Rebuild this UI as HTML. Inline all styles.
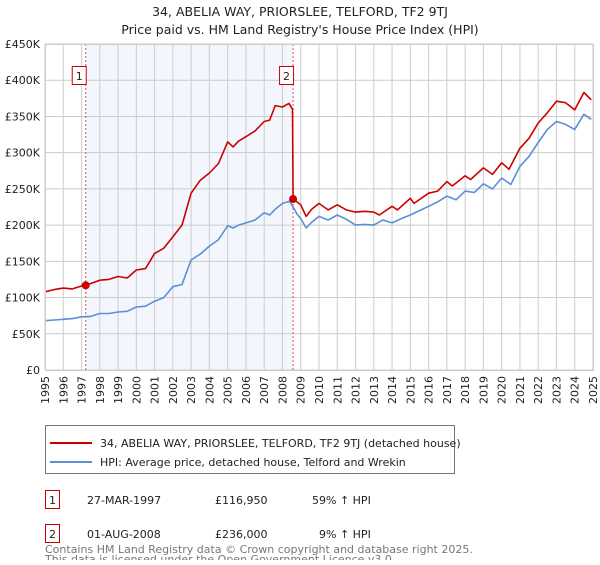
<!DOCTYPE html>
<html><head><meta charset="utf-8"><style>
body{margin:0;background:#fff;font-family:"Liberation Sans","DejaVu Sans",sans-serif;}
svg text{font-family:"DejaVu Sans","Liberation Sans",sans-serif;}
</style></head><body>
<svg id="chart" width="600" height="560" xmlns="http://www.w3.org/2000/svg">
<text x="300" y="16" text-anchor="middle" font-size="12.5" fill="#222">34, ABELIA WAY, PRIORSLEE, TELFORD, TF2 9TJ</text>
<text x="300" y="34" text-anchor="middle" font-size="12.5" fill="#222">Price paid vs. HM Land Registry's House Price Index (HPI)</text>
<g id="plot"></g>
<g>
<rect x="45.5" y="425.5" width="409" height="48" fill="#fff" stroke="#777"/>
<line x1="50" y1="443" x2="92" y2="443" stroke="#cc0000" stroke-width="2"/>
<text x="100" y="447" font-size="11" fill="#222">34, ABELIA WAY, PRIORSLEE, TELFORD, TF2 9TJ (detached house)</text>
<line x1="50" y1="462" x2="92" y2="462" stroke="#5b8fd6" stroke-width="2"/>
<text x="100" y="466" font-size="11" fill="#222">HPI: Average price, detached house, Telford and Wrekin</text>
</g>
<g font-size="11" fill="#222">
<rect x="45.5" y="490.5" width="14" height="18" fill="#fff" stroke="#cc0000"/>
<text x="52.5" y="504" text-anchor="middle">1</text>
<text x="87" y="504">27-MAR-1997</text>
<text x="215" y="504">£116,950</text>
<text x="312" y="504">59% ↑ HPI</text>
</g>
<g font-size="11" fill="#222">
<rect x="45.5" y="524.5" width="14" height="18" fill="#fff" stroke="#cc0000"/>
<text x="52.5" y="538" text-anchor="middle">2</text>
<text x="87" y="538">01-AUG-2008</text>
<text x="215" y="538">£236,000</text>
<text x="319" y="538">9% ↑ HPI</text>
</g>
<text x="45" y="553" font-size="11" fill="#777">Contains HM Land Registry data © Crown copyright and database right 2025.</text>
<text x="45" y="563" font-size="11" fill="#777">This data is licensed under the Open Government Licence v3.0.</text>
</svg>
<script>
const yTicks=[0,50,100,150,200,250,300,350,400,450];
const yTickLabels=["£0","£50K","£100K","£150K","£200K","£250K","£300K","£350K","£400K","£450K"];
const years=[1995,1996,1997,1998,1999,2000,2001,2002,2003,2004,2005,2006,2007,2008,2009,2010,2011,2012,2013,2014,2015,2016,2017,2018,2019,2020,2021,2022,2023,2024,2025];
const hpiT=[1995,1995.5,1996,1996.5,1997,1997.5,1998,1998.5,1999,1999.5,2000,2000.5,2001,2001.5,2002,2002.5,2003,2003.5,2004,2004.5,2005,2005.3,2005.6,2006,2006.5,2007,2007.3,2007.6,2008,2008.4,2008.8,2009,2009.3,2009.6,2010,2010.5,2011,2011.5,2012,2012.5,2013,2013.5,2014,2014.5,2015,2015.5,2016,2016.5,2017,2017.5,2018,2018.5,2019,2019.5,2020,2020.5,2021,2021.5,2022,2022.5,2023,2023.5,2024,2024.5,2024.9];
const hpiV=[68,69,70,71,73.5,74,78,78,80,81,87,88,95,100,115,118,152,160,171,180,199,196,200,203,207,217,214,222,230,233,215,209,196,204,212,207,214,208,200,201,200,207,203,209,214,220,226,232,240,235,247,245,257,250,265,256,281,295,314,332,343,339,332,353,346];
const propT=[1995,1995.5,1996,1996.5,1997,1997.23,1997.7,1998,1998.5,1999,1999.5,2000,2000.5,2001,2001.5,2002,2002.5,2003,2003.5,2004,2004.5,2005,2005.3,2005.6,2006,2006.5,2007,2007.3,2007.6,2008,2008.35,2008.55,2008.58,2009,2009.3,2009.6,2010,2010.5,2011,2011.5,2012,2012.5,2013,2013.3,2014,2014.3,2015,2015.2,2016,2016.5,2017,2017.3,2018,2018.3,2019,2019.5,2020,2020.4,2021,2021.5,2022,2022.5,2023,2023.5,2024,2024.5,2024.9];
const propV=[108,111,113,112,116,116.95,121,124,125,129,127,138,140,161,168,184,200,244,262,272,285,315,308,316,322,330,343,345,365,363,368,360,236,228,212,222,230,221,228,221,218,219,218,214,226,221,237,230,244,247,260,254,268,263,279,270,286,277,306,320,341,355,371,369,359,383,373];
const saleT=[1997.23,2008.58];
const saleV=[116.95,236];
const saleLabels=["1","2"];

const X0=45,X1=593,Y0=370,Y1=44;
const xs=t=>X0+(t-1995)/30*(X1-X0);
const ys=v=>Y0-v/450*(Y0-Y1);
const NS="http://www.w3.org/2000/svg";
const g=document.getElementById('plot');
function mk(tag,attrs){const e=document.createElementNS(NS,tag);for(const k in attrs)e.setAttribute(k,attrs[k]);g.appendChild(e);return e;}

let sh=mk('rect',{x:xs(saleT[0]),y:Y1,width:xs(saleT[1])-xs(saleT[0]),height:Y0-Y1,fill:'#eef3fc',opacity:0.7});


years.forEach(y=>{
 const l=mk('line',{x1:xs(y),x2:xs(y),y1:Y1,y2:Y0,stroke:'#cccccc','stroke-width':1});
 
 
 const tx=xs(y)+4, ty=Y0+6;
 const t=mk('text',{x:tx,y:ty,transform:'rotate(-90 '+tx+' '+ty+')','text-anchor':'end','font-size':11,fill:'#222'});
 t.textContent=y;
 
 
});
yTicks.forEach((v,i)=>{
 const l=mk('line',{x1:X0,x2:X1,y1:ys(v),y2:ys(v),stroke:'#cccccc','stroke-width':1});
 
 
 const t=mk('text',{x:40,y:ys(v)+4,'text-anchor':'end','font-size':11,fill:'#222'});
 t.textContent=yTickLabels[i];
 
 
});
saleT.forEach((s,i)=>{
 const l=mk('line',{x1:xs(s),x2:xs(s),y1:Y1,y2:Y0,stroke:'#e05050','stroke-width':1,'stroke-dasharray':'2,2'});
 
 
});
function path(T,V,color,name){
 const d=T.map((t,i)=>(i?'L':'M')+xs(t).toFixed(1)+','+ys(V[i]).toFixed(1)).join('');
 const p=mk('path',{d:d,fill:'none',stroke:color,'stroke-width':1.6,'stroke-linejoin':'round'});
 
 
}
path(hpiT,hpiV,'#5b8fd6','hpi-line');
path(propT,propV,'#cc0000','property-price-line');
saleT.forEach((s,i)=>{
 const c=mk('circle',{cx:xs(s),cy:ys(saleV[i]),r:4,fill:'#cc0000'});
 
 
 const r=mk('rect',{x:xs(s)-13.5,y:66.5,width:14,height:18,fill:'#fff',stroke:'#cc0000'});
 
 
 const t=mk('text',{x:xs(s)-6.5,y:80,'text-anchor':'middle','font-size':11,fill:'#222'});
 t.textContent=saleLabels[i];
 
 
});
const b=mk('rect',{x:X0+0.5,y:Y1+0.5,width:X1-X0,height:Y0-Y1,fill:'none',stroke:'#cccccc'});


</script>
</body></html>
